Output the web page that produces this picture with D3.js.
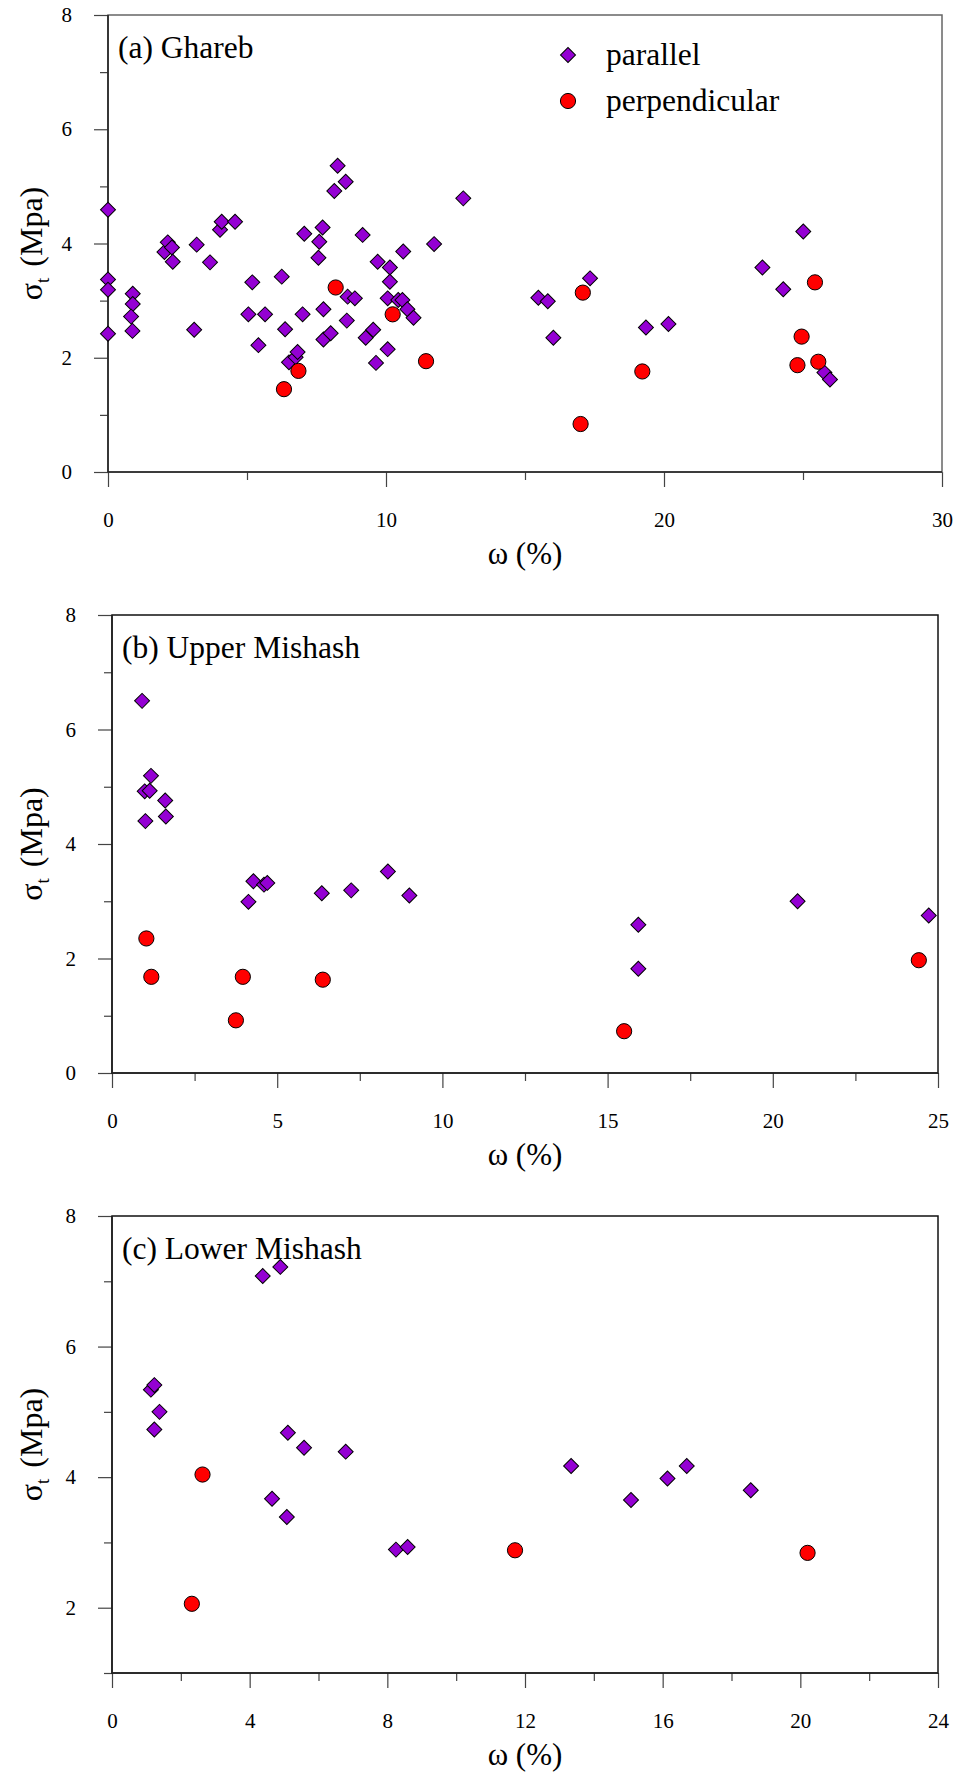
<!DOCTYPE html>
<html>
  <head>
    <meta charset="utf-8">
    <style>
      body { margin: 0; background: #fff; }
      .axis path.domain { display: none; }
      .axis line { stroke: #444; stroke-width: 1.2px; }
      .frame { fill: none; stroke: #333; stroke-width: 1.5px; }
    </style>
  </head>
  <body>
    <svg width="957" height="1773"></svg>
    <script src="https://d3js.org/d3.v7.min.js"></script>
    <script>
      // ---- data: [omega %, sigma_t MPa] ----
      const gharebParallel = [
        [0, 4.59], [0, 3.37], [0, 3.19], [0, 2.42], [0.89, 3.12], [0.89, 2.94], [0.83, 2.72], [0.88, 2.47],
        [2.03, 3.85], [2.15, 4.02], [2.30, 3.93], [2.33, 3.68], [3.10, 2.49], [3.19, 3.98], [3.67, 3.67],
        [4.03, 4.24], [4.09, 4.38], [4.57, 4.38], [5.05, 2.76], [5.19, 3.32], [5.41, 2.22], [5.65, 2.76],
        [6.25, 3.42], [6.37, 2.50], [6.51, 1.92], [6.75, 2.01], [6.82, 2.10], [7.00, 2.76], [7.06, 4.17],
        [7.57, 3.75], [7.60, 4.03], [7.72, 4.28], [7.75, 2.85], [7.75, 2.32], [8.01, 2.43], [8.14, 4.92],
        [8.26, 5.36], [8.55, 5.08], [8.59, 2.65], [8.62, 3.07], [8.88, 3.04], [9.16, 4.15], [9.27, 2.35],
        [9.54, 2.49], [9.64, 1.91], [9.70, 3.68], [10.06, 3.04], [10.06, 2.15], [10.14, 3.58], [10.14, 3.33],
        [10.44, 3.01], [10.59, 3.01], [10.62, 3.86], [10.77, 2.85], [10.99, 2.70], [11.73, 3.99], [12.78, 4.79],
        [15.48, 3.05], [15.82, 2.99], [16.02, 2.35], [17.34, 3.39], [19.35, 2.53], [20.16, 2.59], [23.54, 3.58],
        [24.29, 3.20], [25.01, 4.21], [25.77, 1.74], [25.97, 1.62]
      ];
      const gharebPerpendicular = [
        [6.33, 1.45], [6.85, 1.77], [8.19, 3.23], [10.24, 2.76], [11.44, 1.94], [17.00, 0.84],
        [17.08, 3.14], [19.22, 1.76], [24.80, 1.87], [24.95, 2.37], [25.43, 3.32], [25.55, 1.93]
      ];

      const upperParallel = [
        [0.91, 6.50], [1.18, 5.19], [0.99, 4.92], [1.14, 4.93], [1.61, 4.76], [1.01, 4.40], [1.63, 4.48],
        [4.13, 2.99], [4.28, 3.35], [4.60, 3.29], [4.70, 3.32], [6.35, 3.14], [7.24, 3.19], [8.35, 3.52],
        [9.00, 3.10], [15.93, 2.59], [15.93, 1.82], [20.75, 3.00], [24.72, 2.75]
      ];
      const upperPerpendicular = [
        [1.04, 2.35], [1.19, 1.68], [3.75, 0.92], [3.96, 1.68], [6.38, 1.63], [15.50, 0.73], [24.42, 1.97]
      ];

      const lowerParallel = [
        [1.13, 5.34], [1.23, 5.41], [1.38, 5.00], [1.23, 4.73], [4.38, 7.08], [4.89, 7.22], [4.65, 3.67],
        [5.08, 3.39], [5.11, 4.68], [5.58, 4.45], [6.79, 4.39], [8.25, 2.89], [8.59, 2.93], [13.34, 4.17],
        [15.08, 3.65], [16.14, 3.98], [16.70, 4.17], [18.56, 3.80]
      ];
      const lowerPerpendicular = [
        [2.32, 2.06], [2.63, 4.04], [11.71, 2.88], [20.21, 2.84]
      ];

      // ---- tick values ----
      const gharebXMajor = [0, 10, 20, 30], gharebXMinor = [5, 15, 25];
      const upperXMajor = [0, 5, 10, 15, 20, 25], upperXMinor = [2.5, 7.5, 12.5, 17.5, 22.5];
      const lowerXMajor = [0, 4, 8, 12, 16, 20, 24], lowerXMinor = [2, 6, 10, 14, 18, 22];
      const yMajor08 = [0, 2, 4, 6, 8], yMinor08 = [1, 3, 5, 7];
      const lowerYMajor = [2, 4, 6, 8], lowerYMinor = [1, 3, 5, 7];

      const seriesNames = ['parallel', 'perpendicular'];

      const panels = [
        { title: '(a) Ghareb', xDomain: [0, 30], yDomain: [0, 8],
          xMajor: gharebXMajor, xMinor: gharebXMinor, yMajor: yMajor08, yMinor: yMinor08,
          par: gharebParallel, perp: gharebPerpendicular, frame: '#666',
          left: 108, right: 942, top: 15, bottom: 472, legend: true },
        { title: '(b) Upper Mishash', xDomain: [0, 25], yDomain: [0, 8],
          xMajor: upperXMajor, xMinor: upperXMinor, yMajor: yMajor08, yMinor: yMinor08,
          par: upperParallel, perp: upperPerpendicular, frame: '#111',
          left: 112, right: 938, top: 615, bottom: 1073, legend: false },
        { title: '(c) Lower Mishash', xDomain: [0, 24], yDomain: [1, 8],
          xMajor: lowerXMajor, xMinor: lowerXMinor, yMajor: lowerYMajor, yMinor: lowerYMinor,
          par: lowerParallel, perp: lowerPerpendicular, frame: '#111',
          left: 112, right: 938, top: 1216, bottom: 1673, legend: false }
      ];

      const SERIF = '"Liberation Serif", "Times New Roman", serif';
      const svg = d3.select('svg');
      const diamond = d3.symbol().type(d3.symbolSquare).size(112);

      function drawDiamond(sel) {
        sel.append('path')
          .attr('d', diamond)
          .attr('fill', '#9400d3')
          .attr('stroke', '#000')
          .attr('stroke-width', 1);
      }
      function drawCircle(sel) {
        sel.append('circle')
          .attr('r', 7.6)
          .attr('fill', '#ff0000')
          .attr('stroke', '#000')
          .attr('stroke-width', 1);
      }
      function styleAxis(sel) {
        sel.attr('font-family', null).attr('font-size', null);
        sel.selectAll('text')
          .style('font-family', SERIF)
          .style('font-size', '21px')
          .style('fill', '#000');
      }

      panels.forEach(function(p) {
        const x = d3.scaleLinear().domain(p.xDomain).range([p.left, p.right]);
        const y = d3.scaleLinear().domain(p.yDomain).range([p.bottom, p.top]);
        const g = svg.append('g');
        const fmt = d3.format('d');

        // minor ticks
        g.append('g').attr('class', 'axis')
          .attr('transform', 'translate(0,' + p.bottom + ')')
          .call(d3.axisBottom(x).tickValues(p.xMinor).tickSize(8).tickSizeOuter(0).tickFormat(''));
        g.append('g').attr('class', 'axis')
          .attr('transform', 'translate(' + p.left + ',0)')
          .call(d3.axisLeft(y).tickValues(p.yMinor).tickSize(8).tickSizeOuter(0).tickFormat(''));

        // major ticks
        g.append('g').attr('class', 'axis')
          .attr('transform', 'translate(0,' + p.bottom + ')')
          .call(d3.axisBottom(x).tickValues(p.xMajor).tickFormat(fmt).tickSize(15).tickPadding(25).tickSizeOuter(0))
          .call(styleAxis);
        g.append('g').attr('class', 'axis')
          .attr('transform', 'translate(' + p.left + ',0)')
          .call(d3.axisLeft(y).tickValues(p.yMajor).tickFormat(fmt).tickSize(14).tickPadding(22).tickSizeOuter(0))
          .call(styleAxis);

        // frame: top and right in panel colour, bottom and left axes dark
        g.append('rect').attr('class', 'frame')
          .attr('x', p.left).attr('y', p.top)
          .attr('width', p.right - p.left).attr('height', p.bottom - p.top)
          .style('stroke', p.frame);
        g.append('path')
          .attr('d', 'M' + p.left + ',' + p.top + 'V' + p.bottom + 'H' + p.right)
          .attr('fill', 'none')
          .attr('stroke', '#222')
          .attr('stroke-width', 1.6);

        // axis titles
        g.append('text')
          .attr('x', (p.left + p.right) / 2)
          .attr('y', p.bottom + 92)
          .attr('text-anchor', 'middle')
          .style('font-family', SERIF)
          .style('font-size', '31px')
          .text('ω (%)');

        const yt = g.append('text')
          .attr('transform', 'translate(42,' + ((p.top + p.bottom) / 2) + ') rotate(-90)')
          .attr('text-anchor', 'middle')
          .style('font-family', SERIF)
          .style('font-size', '32px');
        yt.append('tspan').text('σ');
        yt.append('tspan').attr('dy', 7).style('font-size', '19px').text('t');
        yt.append('tspan').attr('dy', -7).attr('dx', 3).text(' (Mpa)');

        // panel label
        g.append('text')
          .attr('x', p.left + 10)
          .attr('y', p.top + 43)
          .style('font-family', SERIF)
          .style('font-size', '31.5px')
          .text(p.title);

        // points
        g.append('g').selectAll('g')
          .data(p.par).enter()
          .append('g')
          .attr('transform', d => 'translate(' + x(d[0]) + ',' + y(d[1]) + ') rotate(45)')
          .call(drawDiamond);
        g.append('g').selectAll('g')
          .data(p.perp).enter()
          .append('g')
          .attr('transform', d => 'translate(' + x(d[0]) + ',' + y(d[1]) + ')')
          .call(drawCircle);

        if (p.legend) {
          const lg = g.append('g');
          const items = lg.selectAll('g').data(seriesNames).enter()
            .append('g')
            .attr('transform', (d, i) => 'translate(568,' + (55 + i * 46) + ')');
          items.filter((d, i) => i === 0).append('g').attr('transform', 'rotate(45)').call(drawDiamond);
          items.filter((d, i) => i === 1).call(drawCircle);
          items.append('text')
            .attr('x', 38)
            .attr('y', 10)
            .style('font-family', SERIF)
            .style('font-size', '31.5px')
            .text(d => d);
        }
      });
    </script>
  </body>
</html>
